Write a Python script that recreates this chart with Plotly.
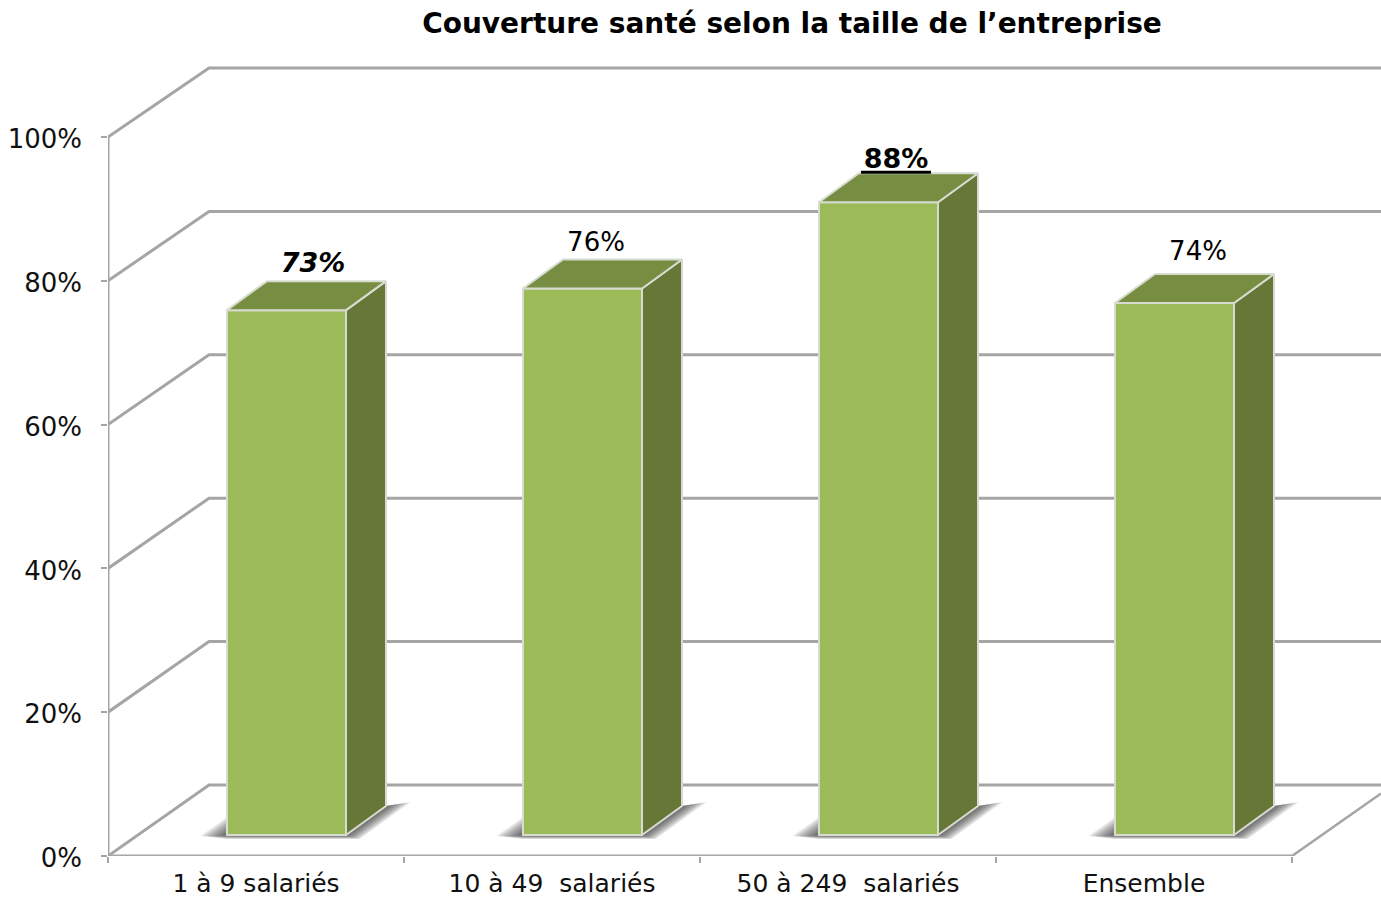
import plotly.graph_objects as go

# ---- data ----
categories = ["1 à 9 salariés", "10 à 49\u00a0 salariés", "50 à 249\u00a0 salariés", "Ensemble"]
values = [73, 76, 88, 74]
value_labels = ["73%", "76%", "88%", "74%"]
y_ticks = [0, 20, 40, 60, 80, 100]
y_tick_labels = ["0%", "20%", "40%", "60%", "80%", "100%"]
title = "Couverture santé selon la taille de l\u2019entreprise"

# ---- geometry (pixels of the page) ----
W, H = 1381, 899
X0, Y0 = 108, 856          # origin of the value/category scales
CAT_PX = 296               # pixels per category
PCT_PX = 7.19              # pixels per percent
WALL_DX, WALL_DY = 101, 71 # depth of the chart box
WALL_SHRINK = 2            # back wall is this many pixels shorter than the front
BAR_W = 119
BAR_SHIFT_X, BAR_SHIFT_Y = 30.5, 21   # bars stand inside the floor
BAR_DX, BAR_DY = 40, 29    # depth of a bar
TICKLABEL_DROP = 2         # value tick labels sit slightly below their ticks

px_x = lambda p: p / CAT_PX
px_y = lambda p: p / PCT_PX
xmax = (W - X0) / CAT_PX
ymax = Y0 / PCT_PX
ncat = len(categories)
cx = [i + 0.5 for i in range(ncat)]

GRID = "#A5A5A5"
FRONT, SIDE, TOP, EDGE = "#9BBB59", "#667737", "#768D42", "#D8DCD0"
FONT = "DejaVu Sans"

fig = go.Figure()


def line(xs, ys, width=3, color=GRID):
    fig.add_trace(go.Scatter(x=xs, y=ys, mode="lines", cliponaxis=False, hoverinfo="skip",
                             line=dict(color=color, width=width), showlegend=False))


# walls: one line along the left wall and the back wall per tick
wx, wy = px_x(WALL_DX), px_y(WALL_DY)
for t in y_ticks:
    back = t + wy - t / 100 * px_y(WALL_SHRINK)
    line([0, wx, xmax], [t, back, back])
# left edge, floor front edge, floor right edge
line([0, 0], [0, 100])
line([0, ncat], [0, 0])
line([ncat, xmax], [0, (xmax - ncat) / wx * wy], width=2.5)

# soft shadows on the floor, below the bars
sx, sy = px_x(BAR_SHIFT_X), px_y(BAR_SHIFT_Y)
bw = px_x(BAR_W)
LAYERS = 14
for c in cx:
    left, right = c + sx - bw / 2, c + sx + bw / 2
    for k in range(LAYERS):
        f = (LAYERS - k) / LAYERS
        fig.add_trace(go.Scatter(
            x=[left - px_x(27 * f), left, right + px_x(BAR_DX), right + px_x(BAR_DX + 25 * f),
               right + px_x(14 * f), left],
            y=[sy - px_y(1), sy + px_y(18 * f), sy + px_y(BAR_DY),
               sy + px_y(BAR_DY + 4 * f), sy - px_y(4 * f), sy - px_y(4 * f)],
            mode="lines", fill="toself", fillcolor="rgba(45,45,45,0.075)",
            line=dict(width=0), hoverinfo="skip", showlegend=False))

# bars on a second pair of axes, shifted into the depth of the box
fig.add_trace(go.Bar(x=cx, y=values, width=bw, xaxis="x2", yaxis="y2", showlegend=False,
                     marker=dict(color=FRONT, line=dict(color=EDGE, width=2))))
ddx, ddy = px_x(BAR_DX), px_y(BAR_DY)
for c, v in zip(cx, values):
    l, r = c - bw / 2, c + bw / 2
    fig.add_trace(go.Scatter(x=[r, r + ddx, r + ddx, r, r], y=[0, ddy, v + ddy, v, 0],
                             xaxis="x2", yaxis="y2", mode="lines", fill="toself", fillcolor=SIDE,
                             line=dict(color=EDGE, width=2), hoverinfo="skip", showlegend=False))
    fig.add_trace(go.Scatter(x=[l, l + ddx, r + ddx, r, l], y=[v, v + ddy, v + ddy, v, v],
                             xaxis="x2", yaxis="y2", mode="lines", fill="toself", fillcolor=TOP,
                             line=dict(color=EDGE, width=2), hoverinfo="skip", showlegend=False))

# value labels on the bars' axes: position relative to each bar, in pixels
label_off_x = [57, 44, 48, 54]
label_gap_y = [16, 15, 12, 20]
label_x = [c + px_x(o) - sx for c, o in zip(cx, label_off_x)]
label_y = [v + px_y(BAR_DY + g) for v, g in zip(values, label_gap_y)]
fig.add_trace(go.Scatter(
    x=label_x, y=label_y, xaxis="x2", yaxis="y2",
    mode="text", text=value_labels, cliponaxis=False, showlegend=False, hoverinfo="skip",
    textposition="middle center",
    textfont=dict(family=FONT, size=[27, 26, 27, 26], color="#000000",
                  weight=["bold", "normal", "bold", "normal"],
                  style=["italic", "normal", "normal", "normal"])))
# the 88% label is underlined with a heavy rule
u = value_labels.index("88%")
fig.add_trace(go.Scatter(
    x=[label_x[u] - px_x(35), label_x[u] + px_x(35)],
    y=[label_y[u] - px_y(11)] * 2, xaxis="x2", yaxis="y2",
    mode="lines", cliponaxis=False, showlegend=False, hoverinfo="skip",
    line=dict(color="#000000", width=3)))

# carrier for the axis that draws the value tick labels
fig.add_trace(go.Scatter(x=[0], y=[0], yaxis="y3", mode="markers", marker=dict(opacity=0),
                         hoverinfo="skip", showlegend=False))

fig.update_layout(
    width=W, height=H, autosize=False,
    margin=dict(l=0, r=0, t=0, b=0, autoexpand=False),
    paper_bgcolor="white", plot_bgcolor="rgba(0,0,0,0)", showlegend=False,
    title=dict(text=f"<b>{title}</b>", x=792 / W, y=1 - 23 / H, xanchor="center", yanchor="middle",
               font=dict(family=FONT, size=28, color="#000000")),
    xaxis=dict(domain=[X0 / W, 1], range=[0, xmax], showgrid=False, zeroline=False, showline=False,
               automargin=False,
               tickmode="array", tickvals=cx, ticktext=categories, ticks="", ticklabelstandoff=10,
               tickfont=dict(family=FONT, size=25, color="#111111"),
               minor=dict(tickmode="array", tickvals=list(range(ncat + 1)), ticks="outside",
                          ticklen=6, tickwidth=1.5, tickcolor=GRID, showgrid=False)),
    yaxis=dict(domain=[1 - Y0 / H, 1], range=[0, ymax], showgrid=False, zeroline=False, showline=False,
               automargin=False,
               tickmode="array", tickvals=y_ticks, showticklabels=False, ticks="outside",
               ticklen=6, tickwidth=1.5, tickcolor=GRID),
    yaxis3=dict(domain=[1 - (Y0 + TICKLABEL_DROP) / H, 1], anchor="x", side="left", automargin=False,
                range=[0, px_y(Y0 + TICKLABEL_DROP)],
                showgrid=False, zeroline=False, showline=False, ticks="",
                tickmode="array", tickvals=y_ticks, ticktext=y_tick_labels, ticklabelstandoff=25,
                tickfont=dict(family=FONT, size=26, color="#111111")),
    xaxis2=dict(overlaying="x", anchor="y2", range=[-sx, xmax - sx], visible=False),
    yaxis2=dict(overlaying="y", anchor="x2", range=[-sy, ymax - sy], visible=False),
)

fig.write_html("out.html", config=dict(displayModeBar=False),
               post_script="document.body.style.margin='0';document.body.style.overflow='hidden';")
